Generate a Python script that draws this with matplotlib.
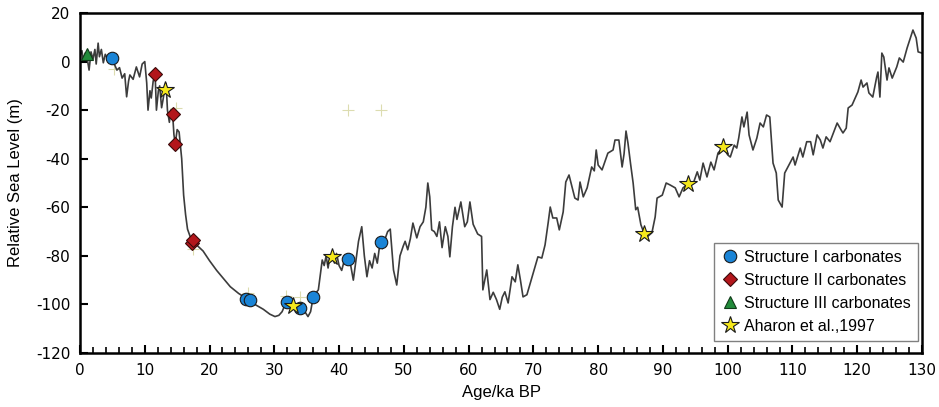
import matplotlib
matplotlib.use("Agg")
import matplotlib.pyplot as plt
from matplotlib.ticker import MultipleLocator

plt.rcParams['axes.unicode_minus'] = False

# sea level curve (age in ka BP, relative sea level in m)
age = [0.0, 0.3, 0.5, 0.8, 1.1, 1.4, 1.7, 2.0, 2.3, 2.5, 2.8, 3.0, 3.3, 3.6, 3.9, 4.3, 4.8,
       5.3, 5.7, 6.1, 6.5, 6.9, 7.2, 7.5, 7.7, 8.2, 8.7, 9.2, 9.6, 10.0, 10.3, 10.5, 10.8,
       11.0, 11.3, 11.6, 11.8, 12.1, 12.3, 12.6, 12.8, 13.1, 13.3, 13.5, 13.8, 14.0, 14.3,
       14.5, 14.7, 15.0, 15.3, 15.7, 16.0, 16.3, 16.6, 17.0, 17.5, 18.2, 19.0, 20.0, 21.1,
       22.2, 23.2, 24.5, 25.8, 27.0, 28.3, 29.3, 30.1, 30.7, 31.2, 31.6, 31.9, 32.4, 32.9,
       33.5, 34.0, 34.6, 35.2, 35.6, 36.0, 36.5, 36.8, 37.1, 37.4, 37.7, 38.0, 38.3, 38.6,
       38.9, 39.3, 39.6, 40.0, 40.4, 40.8, 41.4, 41.8, 42.2, 42.6, 43.0, 43.5, 43.9, 44.3,
       44.7, 45.1, 45.5, 45.9, 46.3, 46.7, 47.1, 47.5, 47.9, 48.4, 48.9, 49.4, 49.9, 50.2,
       50.6, 51.0, 51.4, 52.0, 52.5, 53.0, 53.4, 53.7, 54.0, 54.3, 54.7, 55.1, 55.5, 55.9,
       56.4, 56.8, 57.1, 57.5, 57.9, 58.2, 58.8, 59.4, 59.8, 60.2, 60.7, 61.4, 62.0, 62.2,
       62.8, 63.3, 63.8, 64.3, 64.8, 65.2, 65.6, 66.1, 66.7, 67.2, 67.6, 68.0, 68.4, 69.0,
       69.9, 70.7, 71.3, 71.8, 72.3, 72.6, 73.0, 73.6, 74.0, 74.6, 75.0, 75.5, 76.0, 76.4,
       76.9, 77.2, 77.7, 78.3, 79.0, 79.4, 79.7, 80.0, 80.6, 81.5, 82.3, 82.6, 83.2, 83.7,
       84.0, 84.3, 84.6, 85.0, 85.4, 85.8, 86.1, 86.6, 87.0, 87.5, 88.3, 88.8, 89.1, 89.9,
       90.5, 91.1, 91.9, 92.5, 93.1, 93.9, 94.7, 95.3, 95.7, 96.2, 96.8, 97.4, 97.9, 98.5,
       99.3, 100.0, 100.4, 101.0, 101.4, 101.7, 102.2, 102.5, 103.0, 103.3, 103.9, 104.5,
       105.0, 105.5, 106.0, 106.5, 107.0, 107.5, 107.8, 108.4, 108.8, 109.6, 110.1, 110.4,
       111.2, 111.6, 112.2, 112.8, 113.2, 113.8, 114.3, 114.7, 115.2, 115.8, 116.9, 117.5,
       117.8, 118.3, 118.6, 119.2, 120.1, 120.6, 120.9, 121.5, 121.8, 122.4, 123.0, 123.2,
       123.5, 123.8, 124.1, 124.6, 124.9, 125.4, 126.1, 126.5, 127.1, 127.7, 128.6, 129.1,
       129.4, 130.0]
level = [2.5, 4.5, 0.5, 3.5, 1.5, -3.5, 4, 1, 5, -1, 7.6, 2, 5, -0.5, 3, 1, 1.5,
         -1, -3.5, -2.5, -6.8, -5, -14.5, -8, -5.5, -7.3, -2.2, -6.3, -1, 0, -8.8, -20, -12,
         -15, -8, -5.5, -20, -12, -10, -19, -16, -11, -9, -20, -25, -20, -21.6,
         -30, -34, -28, -29, -40, -55, -63, -69, -72, -73.8, -76, -78, -82, -86,
         -89.5, -92.7, -95.5, -97.7, -100, -102, -104, -105, -104.5, -103, -100.5, -99.4, -100.5, -100.6,
         -101, -101.4, -102.5, -105, -103, -97, -95, -94, -88, -81.7, -84, -80, -85, -80,
         -80.5, -83, -79, -84, -86, -82, -81.2, -84, -90, -82, -74, -68, -80, -88.6,
         -82, -85, -79, -83, -75, -77, -73, -70, -69, -85.8, -92, -80, -76, -74,
         -77.5, -73, -66.5, -72.6, -68, -66, -60, -50, -55.7, -69.3, -70, -72, -66, -76.6,
         -68, -72, -80.4, -68, -60, -65, -57.8, -68, -66, -57.8, -67, -71, -72, -94,
         -85.8, -98, -95, -98, -102, -97, -94.8, -99.4, -88.6, -90.7, -83.7, -90, -96.9, -96,
         -87.8, -80.4, -80.9, -75.5, -66, -59.9, -64.4, -64.4, -69.3, -61.9, -49.6, -46.7, -52, -56.2,
         -57, -49.6, -55.7, -52, -43.4, -45, -36.4, -42.6, -44.6, -37.7, -36.4, -32.3, -32.3, -43.4,
         -38, -28.6, -33.5, -42, -50, -61, -60, -67.2, -70.1, -72.3, -70.5, -64, -56.2, -55,
         -50, -50.8, -52, -55.7, -52, -50.4, -50, -45.4, -48.8, -41.8, -47.5, -41.4, -44.6, -37.7,
         -35.2, -38.4, -39.3, -34.4, -35.6, -31.5, -22.8, -26.9, -20.8, -30.2, -36.4, -31.5,
         -25.3, -26.9, -22, -22.8, -41.8, -45.9, -57, -59.9, -45.9, -41.8, -39.3, -42.6,
         -35.6, -39.3, -33, -33, -38.4, -30.2, -32.3, -35.6, -31, -33, -25.3, -28.1,
         -29.4, -27.4, -19.1, -17.9, -12.5, -7.6, -10.5, -8.8, -12.9, -14.6, -6.4, -4.3,
         -14.6, 3.5, 1.9, -7.6, -2.6, -6.8, -2.2, 1.5, -0.2, 5.6, 13, 9.7,
         4, 3.5]

# sample points
s1_age = [4.9, 25.7, 26.2, 31.9, 34.0, 36.0, 41.3, 46.5]
s1_lvl = [1.4, -97.8, -98.0, -99.2, -101.5, -97.0, -81.2, -74.1]
s2_age = [11.6, 14.4, 14.7, 17.3, 17.5]
s2_lvl = [-5.2, -21.6, -34.0, -74.5, -73.4]
s3_age = [1.1]
s3_lvl = [3.1]
ah_age = [13.1, 32.9, 38.9, 87.1, 93.9, 99.3]
ah_lvl = [-11.7, -100.6, -80.3, -71.0, -50.4, -35.2]
# faint cross markers
cr_age = [41.3, 46.5, 26.0, 31.8, 34.0, 5.2, 14.8, 17.5]
cr_lvl = [-19.9, -20.0, -95.4, -96.5, -97.0, -3.0, -19.0, -77.0]

fig = plt.figure(figsize=(9.39, 4.07), dpi=100)
ax = fig.add_axes([0.0852, 0.1327, 0.8967, 0.8353])

ax.plot(cr_age, cr_lvl, '+', color='#dcdcb0', ms=9, mew=0.8, zorder=1)
ax.plot(age, level, color='#3c3c3c', lw=1.2, zorder=2)
ax.plot(s1_age, s1_lvl, 'o', ms=9, mfc='#1a84d6', mec='#1a1a1a', mew=0.8,
        label='Structure I carbonates', zorder=3)
ax.plot(s2_age, s2_lvl, 'D', ms=7.5, mfc='#b3161b', mec='#3a0a0a', mew=0.8,
        label='Structure II carbonates', zorder=3)
ax.plot(s3_age, s3_lvl, '^', ms=9, mfc='#228b3b', mec='#0f3a18', mew=0.8,
        label='Structure III carbonates', zorder=3)
ax.plot(ah_age, ah_lvl, '*', ms=13, mfc='#f5e81c', mec='#1a1a1a', mew=0.8,
        label='Aharon et al.,1997', zorder=4)

ax.set_xlim(0, 130)
ax.set_ylim(-120, 20)
ax.xaxis.set_major_locator(MultipleLocator(10))
ax.xaxis.set_minor_locator(MultipleLocator(2))
ax.yaxis.set_major_locator(MultipleLocator(20))
ax.tick_params(axis='both', which='major', direction='in', length=6, width=1.5,
               labelsize=11, pad=7)
ax.tick_params(axis='x', which='minor', direction='in', length=4, width=1.2)
for lab in ax.get_xticklabels() + ax.get_yticklabels():
    lab.set_family('DejaVu Sans')
for sp in ax.spines.values():
    sp.set_linewidth(1.8)

ax.set_xlabel('Age/ka BP', fontsize=12, family='Liberation Sans', labelpad=5)
ax.set_ylabel('Relative Sea Level (m)', fontsize=12, family='Liberation Sans', labelpad=9)

leg = ax.legend(loc='lower right', bbox_to_anchor=(0.995, 0.035), borderaxespad=0,
                fancybox=False, framealpha=1, edgecolor='#808080',
                prop={'family': 'Liberation Sans', 'size': 11.5},
                handletextpad=0.3, borderpad=0.45, labelspacing=0.5, handlelength=1.1)
leg.get_frame().set_linewidth(1.0)

fig.savefig('out.png', dpi=100)
